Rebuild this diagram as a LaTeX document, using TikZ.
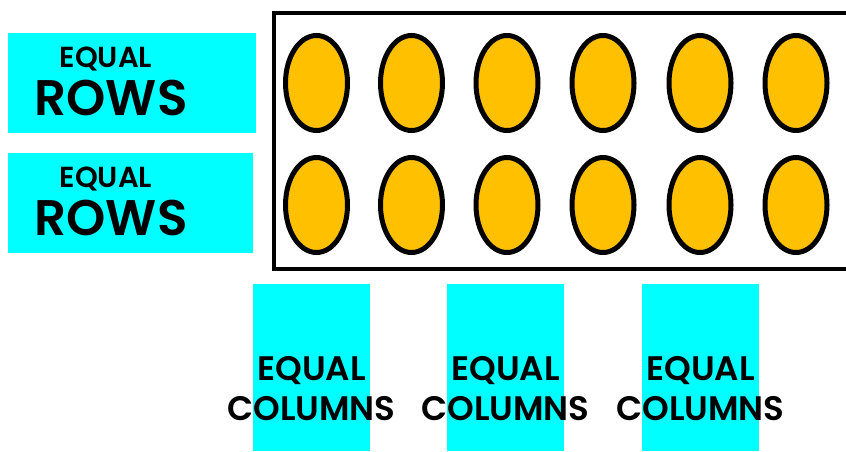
\documentclass[tikz,border=0pt]{standalone}
\usepackage{fontspec}
\setmainfont{Poppins}[BoldFont={Poppins SemiBold}]
\usetikzlibrary{shapes.geometric}
\definecolor{aqua}{HTML}{00FFFF}
\definecolor{gold}{HTML}{FFC000}
\tikzset{
  labelbox/.style={fill=aqua, draw=none},
  dot/.style={ellipse, draw=black, line width=5pt, fill=gold, minimum width=62pt, minimum height=95pt, inner sep=0pt},
  smalltxt/.style={anchor=base, inner sep=0pt, font=\bfseries\fontsize{29}{29}\selectfont},
  bigtxt/.style={anchor=base, inner sep=0pt, font=\bfseries\fontsize{50}{50}\selectfont},
  coltxt/.style={anchor=base, inner sep=0pt, font=\bfseries\fontsize{34}{34}\selectfont},
}
\begin{document}
\begin{tikzpicture}[x=1pt,y=-1pt]
\useasboundingbox (0,0) rectangle (846,451);
\begin{scope}
\clip (0,0) rectangle (846,451);
\node[draw=black, line width=4pt, minimum width=600pt, minimum height=256pt, anchor=north west, inner sep=0pt] (frame) at (272,11) {};
\end{scope}
% row boxes
\fill[labelbox] (8,33) rectangle (256,133);
\fill[labelbox] (8,153) rectangle (253,253);
\node[smalltxt] (rA1) at (106,67) {EQUAL};
\node[bigtxt] (rA2) at (111,115) {ROWS};
\node[smalltxt] (rB1) at (106,187) {EQUAL};
\node[bigtxt] (rB2) at (111,235) {ROWS};
% column boxes
\fill[labelbox] (253,284) rectangle (370,451);
\fill[labelbox] (447,284) rectangle (564,451);
\fill[labelbox] (642,284) rectangle (759,451);
\foreach \cx/\n in {311.5/1,505.5/2,700.5/3}{
  \node[coltxt] (cE\n) at (\cx,380) {EQUAL};
  \node[coltxt] (cC\n) at (\cx,420) {COLUMNS};
}
% ellipses
\foreach \ex/\n in {316.5/1,411.5/2,507/3,603/4,700/5,796/6}{
  \node[dot] (t\n) at (\ex,83) {};
  \node[dot] (b\n) at (\ex,205) {};
}
\end{tikzpicture}
\end{document}
